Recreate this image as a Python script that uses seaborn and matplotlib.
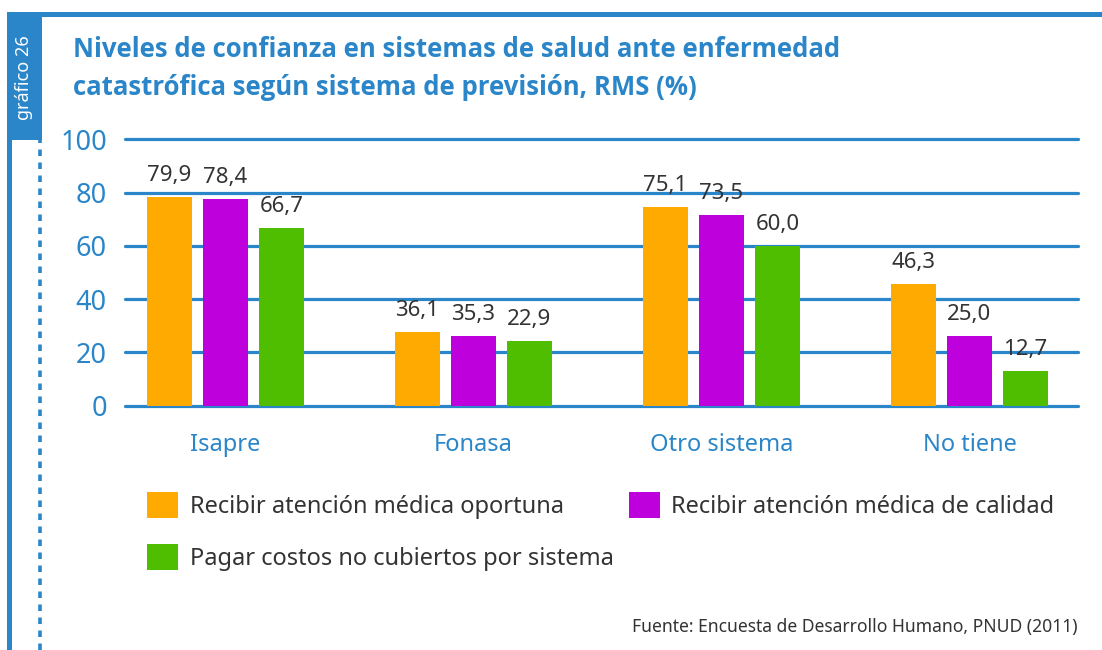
import pandas as pd
import seaborn as sns
import matplotlib.pyplot as plt
from matplotlib.patches import Rectangle
from matplotlib.lines import Line2D

# categories and series
categorias = ["Isapre", "Fonasa", "Otro sistema", "No tiene"]
series = ["Recibir atención médica oportuna",
          "Recibir atención médica de calidad",
          "Pagar costos no cubiertos por sistema"]

# bar heights as drawn in the chart
oportuna = [78.3, 27.6, 74.6, 45.6]
calidad = [77.5, 26.1, 71.5, 26.1]
pagar = [66.7, 24.3, 60.0, 13.0]

# printed value labels
etiq_oportuna = ["79,9", "36,1", "75,1", "46,3"]
etiq_calidad = ["78,4", "35,3", "73,5", "25,0"]
etiq_pagar = ["66,7", "22,9", "60,0", "12,7"]

yticks = [0, 20, 40, 60, 80, 100]

colores = ["#FFAA00", "#BE00DC", "#50BE00"]
azul = "#2A86C8"
gris = "#333333"

W, H = 1102, 650

df = pd.DataFrame({
    "sistema": categorias * 3,
    "serie": [s for s in series for _ in categorias],
    "valor": oportuna + calidad + pagar,
})

sns.set_theme(style="white")
plt.rcParams["font.family"] = ["Noto Sans", "DejaVu Sans"]

fig = plt.figure(figsize=(W / 100, H / 100), dpi=100)
ax = fig.add_axes([125 / W, 1 - 405.7 / H, 953 / W, 266.4 / H])

sns.barplot(data=df, x="sistema", y="valor", hue="serie", hue_order=series,
            order=categorias, palette=colores, saturation=1,
            width=0.677, gap=0.2, linewidth=0, ax=ax, legend=True)

ax.set_xlim(-0.405, 3.4375)
ax.set_ylim(0, 100)
ax.set_yticks(yticks)
ax.set_xlabel("")
ax.set_ylabel("")
for s in ax.spines.values():
    s.set_visible(False)
ax.set_axisbelow(True)
ax.yaxis.grid(True, color=azul, lw=2.3)
for gl in ax.get_ygridlines():
    gl.set_clip_on(False)
ax.xaxis.grid(False)
ax.tick_params(axis="y", length=0, pad=13, labelsize=19.5, labelcolor=azul)
ax.tick_params(axis="x", length=0, pad=20, labelsize=17, labelcolor=azul)

for cont, labs in zip(ax.containers, [etiq_oportuna, etiq_calidad, etiq_pagar]):
    ax.bar_label(cont, labels=labs, padding=8, fontsize=16, color=gris)

# legend laid out row-wise
handles, labels = ax.get_legend_handles_labels()
ax.get_legend().remove()
orden = [0, 2, 1]
fig.legend([handles[i] for i in orden], [labels[i] for i in orden],
           loc="upper left", bbox_to_anchor=(147 / W, 1 - 492 / H),
           ncol=2, frameon=False, fontsize=17, labelcolor=gris,
           handlelength=1.31, handleheight=1.31, handletextpad=0.5,
           columnspacing=0.64, labelspacing=1.06, borderpad=0, borderaxespad=0)

# title
titulo = dict(fontsize=18.5, fontweight="bold", color=azul, va="baseline",
              family=["Open Sans", "Lato", "DejaVu Sans"])
fig.text(73 / W, 1 - 57 / H, "Niveles de confianza en sistemas de salud ante enfermedad", **titulo)
fig.text(73 / W, 1 - 95 / H, "catastrófica según sistema de previsión, RMS (%)", **titulo)

fig.text(1077 / W, 1 - 627 / H, "Fuente: Encuesta de Desarrollo Humano, PNUD (2011)",
         fontsize=12.6, color=gris, ha="right", va="center")

# frame decoration
fig.patches.append(Rectangle((7 / W, 1 - 16.5 / H), (W - 7) / W, 5 / H,
                             transform=fig.transFigure, color=azul, lw=0))
fig.patches.append(Rectangle((7 / W, 1 - 140 / H), 35 / W, 128 / H,
                             transform=fig.transFigure, color=azul, lw=0))
fig.patches.append(Rectangle((7 / W, 0), 5 / W, 1 - 140 / H,
                             transform=fig.transFigure, color=azul, lw=0))
fig.lines.append(Line2D([40 / W, 40 / W], [0, 1 - 140 / H], transform=fig.transFigure,
                        color=azul, lw=2.6, ls=(0, (1.8, 1.8)), dash_capstyle="butt"))
fig.text(24 / W, 1 - 78 / H, "gráfico 26", rotation=90, color="white",
         fontsize=13, ha="center", va="center")

fig.savefig("out.png", dpi=100)
